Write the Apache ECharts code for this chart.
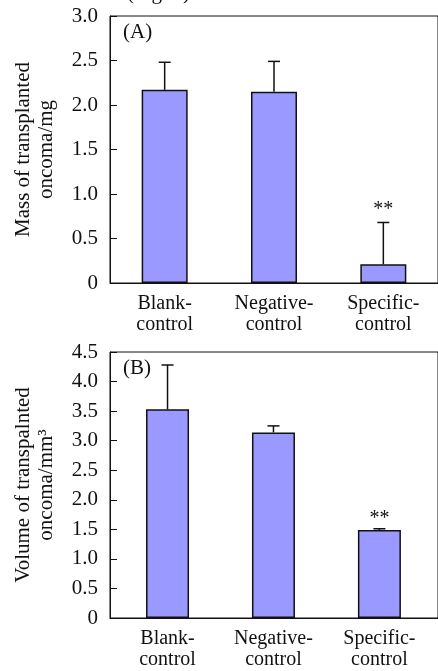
<!DOCTYPE html>
<html>
<head>
<meta charset="utf-8">
<script src="https://cdn.jsdelivr.net/npm/echarts@6/dist/echarts.min.js"></script>
<style>
  html, body { margin: 0; padding: 0; background: #fff; }
  #main { width: 438px; height: 671px; }
</style>
</head>
<body>
<div id="main"></div>
<script>
// groups on the x axis
const categories = ['Blank-\ncontrol', 'Negative-\ncontrol', 'Specific-\ncontrol'];
const stars = ['', '', '**'];

// (A) mass of transplanted oncoma, mg
const massMean = [2.17, 2.15, 0.21];
const massErr = [0.31, 0.34, 0.47];
const massTicks = { min: 0, max: 3, interval: 0.5 };

// (B) volume of transplanted oncoma, mm3
const volMean = [3.53, 3.14, 1.49];
const volErr = [0.75, 0.11, 0.02];
const volTicks = { min: 0, max: 4.5, interval: 0.5 };

const FONT = '"Liberation Serif", "Times New Roman", serif';
const BAR_COLOR = '#9999ff';
const INK = '#111';

function xAxisOf(grid, min, max) {
  return {
    type: 'value', gridIndex: grid, min: min, max: max,
    axisLine: { show: true, onZero: false, lineStyle: { color: INK, width: 1 } },
    axisTick: { show: false },
    splitLine: { show: false },
    axisLabel: {
      customValues: [0, 1, 2],
      formatter: v => categories[Math.round(v)],
      fontFamily: FONT, fontSize: 20, lineHeight: 21, color: INK, margin: 10
    }
  };
}

function yAxisOf(grid, ticks, name) {
  return {
    type: 'value', gridIndex: grid,
    min: ticks.min, max: ticks.max, interval: ticks.interval,
    axisLine: { show: true, onZero: false, lineStyle: { color: INK, width: 1 } },
    axisTick: { show: true, inside: true, length: 7, lineStyle: { color: INK } },
    splitLine: { show: false },
    axisLabel: {
      formatter: v => (v === 0 ? '0' : v.toFixed(1)),
      fontFamily: FONT, fontSize: 21, color: INK, margin: 12
    },
    name: name, nameLocation: 'middle', nameRotate: 90, nameGap: 52,
    nameTextStyle: { fontFamily: FONT, fontSize: 21, lineHeight: 23, color: INK }
  };
}

function barSeries(idx, mean, width) {
  return {
    type: 'bar', xAxisIndex: idx, yAxisIndex: idx,
    barWidth: width,
    data: mean.map((v, i) => [i, v]),
    itemStyle: { color: BAR_COLOR, borderColor: INK, borderWidth: 1.5 },
    silent: true
  };
}

// one-sided error bar + significance stars
function errSeries(idx, mean, err, starGap) {
  return {
    type: 'custom', xAxisIndex: idx, yAxisIndex: idx, z: 5,
    data: mean.map((v, i) => [i, v, v + err[i]]),
    renderItem: function (params, api) {
      const base = api.coord([api.value(0), api.value(1)]);
      const top = api.coord([api.value(0), api.value(2)]);
      const kids = [
        { type: 'line', shape: { x1: base[0], y1: base[1], x2: top[0], y2: top[1] },
          style: { stroke: INK, lineWidth: 1.5 } },
        { type: 'line', shape: { x1: top[0] - 6, y1: top[1], x2: top[0] + 6, y2: top[1] },
          style: { stroke: INK, lineWidth: 1.5 } }
      ];
      const s = stars[params.dataIndex];
      if (s) {
        kids.push({ type: 'text', x: top[0], y: top[1] - starGap,
          style: { text: s, font: '20px ' + FONT, fill: INK, align: 'center', verticalAlign: 'middle' } });
      }
      return { type: 'group', children: kids };
    }
  };
}

const chart = echarts.init(document.getElementById('main'), null, { renderer: 'canvas' });
chart.setOption({
  animation: false,
  backgroundColor: '#fff',
  grid: [
    { left: 110, top: 16, width: 339, height: 267, show: true, borderColor: INK, borderWidth: 1, backgroundColor: 'transparent' },
    { left: 110, top: 352, width: 339, height: 266, show: true, borderColor: INK, borderWidth: 1, backgroundColor: 'transparent' }
  ],
  xAxis: [xAxisOf(0, -0.5, 2.5), xAxisOf(1, -0.543, 2.553)],
  yAxis: [
    yAxisOf(0, massTicks, 'Mass of transplanted\noncoma/mg'),
    yAxisOf(1, volTicks, 'Volume of transpalnted\noncoma/mm\u00b3')
  ],
  graphic: [
    { type: 'text', left: 127, top: -17, style: { text: '(Fig. 5)', font: '21px ' + FONT, fill: INK } },
    { type: 'text', left: 123, top: 22, style: { text: '(A)', font: '21px ' + FONT, fill: INK } },
    { type: 'text', left: 123, top: 358, style: { text: '(B)', font: '21px ' + FONT, fill: INK } }
  ],
  series: [
    barSeries(0, massMean, 46),
    errSeries(0, massMean, massErr, 13),
    barSeries(1, volMean, 43),
    errSeries(1, volMean, volErr, 10)
  ]
});
</script>
</body>
</html>
